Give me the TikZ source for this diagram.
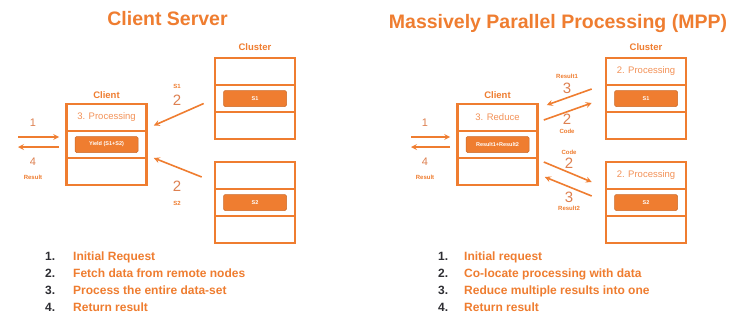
\documentclass[tikz,border=0pt]{standalone}
\usepackage{fontspec}
\setmainfont{Liberation Sans}
\usepackage{tikz}
\definecolor{mppor}{RGB}{239,125,48}
\definecolor{mpplt}{RGB}{243,146,88}
\definecolor{mppbr}{RGB}{222,128,80}
\definecolor{mppgr}{RGB}{45,45,50}
\tikzset{
  row/.style={draw=mppor, line width=2.6pt, minimum width=80pt, minimum height=27pt,
    inner sep=0pt, text=mpplt, font=\fontsize{9.5}{11}\selectfont},
  bar/.style={fill=mppor, draw=mppor!85!black, line width=0.5pt, rounded corners=1.5pt,
    minimum width=63pt, minimum height=16pt, inner sep=0pt, text=white,
    font=\bfseries\fontsize{5.5}{6}\selectfont},
  arr/.style={draw=mppor, line width=1.6pt, -stealth},
  title/.style={anchor=base, text=mppor, font=\bfseries\fontsize{19.5}{22}\selectfont},
  head/.style={text=mppor, font=\bfseries\fontsize{9.5}{11}\selectfont},
  num/.style={text=mppbr, font=\fontsize{15}{17}\selectfont, inner sep=0pt},
  small/.style={text=mppbr, font=\fontsize{11}{13}\selectfont, inner sep=0pt},
  tag/.style={text=mppor, font=\bfseries\fontsize{6}{7}\selectfont, inner sep=0pt},
  itemno/.style={anchor=base west, inner sep=0pt, text=mppgr, font=\bfseries\fontsize{12}{14}\selectfont},
  itemtx/.style={anchor=base west, inner sep=0pt, text=mppor, font=\bfseries\fontsize{12}{14}\selectfont}
}
\begin{document}
\begin{tikzpicture}[x=1pt,y=-1pt]
  \fill[white] (0,0) rectangle (742,322);
  \useasboundingbox (0,0) rectangle (742,322);

  % Titles
  \node[title] (ltitle) at (167.5,25) {Client Server};
  \node[title] (rtitle) at (558,28.5) {Massively Parallel Processing (MPP)};

  % ---------------- Client Server ----------------
  % Cluster, top node
  \node[head] (lclu) at (255,47) {Cluster};
  \node[row] (lta1) at (255,71.5) {};
  \node[row] (lta2) at (255,98.5) {};
  \node[row] (lta3) at (255,125.5) {};
  \node[bar] (lbar1) at (lta2) {S1};

  % Cluster, bottom node
  \node[row] (ltb1) at (255,175.5) {};
  \node[row] (ltb2) at (255,202.5) {};
  \node[row] (ltb3) at (255,229.5) {};
  \node[bar] (lbar2) at (ltb2) {S2};

  % Client
  \node[head] (lcli) at (106.5,95) {Client};
  \node[row] (lcl1) at (106.5,117.5) {3. Processing};
  \node[row] (lcl2) at (106.5,144.5) {};
  \node[row] (lcl3) at (106.5,171.5) {};
  \node[bar] (lbar3) at (lcl2) {Yield (S1+S2)};

  % Request and result
  \coordinate (lin) at (18,137);
  \coordinate (lout) at (18,147);
  \draw[arr] (lin) -- ([shift={(-6,-7.5)}]lcl2.west);
  \draw[arr] ([shift={(-6,2.5)}]lcl2.west) -- (lout);
  \node[small] (lone) at (33,123) {1};
  \node[small] (lfour) at (33,162) {4};
  \node[tag] (lres) at (33,177) {Result};

  % Fetch from the cluster
  \draw[arr] ([shift={(-10,5)}]lta2.west) -- ([shift={(6,8)}]lcl1.east);
  \draw[arr] ([shift={(-12,1.5)}]ltb1.west) -- ([shift={(6,13.5)}]lcl2.east);
  \node[tag] (ls1) at (177,86) {S1};
  \node[num] (ltwoa) at (177,100) {2};
  \node[num] (ltwob) at (177,186) {2};
  \node[tag] (ls2) at (177,203) {S2};

  % Steps
  \node[itemno] (ln1) at (45,260.5) {1.};
  \node[itemtx] (lt1) at (73,260.5) {Initial Request};
  \node[itemno] (ln2) at (45,277.5) {2.};
  \node[itemtx] (lt2) at (73,277.5) {Fetch data from remote nodes};
  \node[itemno] (ln3) at (45,294.5) {3.};
  \node[itemtx] (lt3) at (73,294.5) {Process the entire data-set};
  \node[itemno] (ln4) at (45,311.5) {4.};
  \node[itemtx] (lt4) at (73,311.5) {Return result};

  % ---------------- MPP ----------------
  % Cluster, top node
  \node[head] (rclu) at (646,47) {Cluster};
  \node[row] (rta1) at (646,71.5) {2. Processing};
  \node[row] (rta2) at (646,98.5) {};
  \node[row] (rta3) at (646,125.5) {};
  \node[bar] (rbar1) at (rta2) {S1};

  % Cluster, bottom node
  \node[row] (rtb1) at (646,175.5) {2. Processing};
  \node[row] (rtb2) at (646,202.5) {};
  \node[row] (rtb3) at (646,229.5) {};
  \node[bar] (rbar2) at (rtb2) {S2};

  % Client
  \node[head] (rcli) at (497.5,95) {Client};
  \node[row] (rcl1) at (497.5,117.5) {3. Reduce};
  \node[row] (rcl2) at (497.5,144.5) {};
  \node[row] (rcl3) at (497.5,171.5) {};
  \node[bar] (rbar3) at (rcl2) {Result1+Result2};

  % Request and result
  \coordinate (rin) at (411,137);
  \coordinate (rout) at (411,147);
  \draw[arr] (rin) -- ([shift={(-6,-7.5)}]rcl2.west);
  \draw[arr] ([shift={(-6,2.5)}]rcl2.west) -- (rout);
  \node[small] (rone) at (425,123) {1};
  \node[small] (rfour) at (425,162) {4};
  \node[tag] (rres) at (425,177) {Result};

  % Code out, results back
  \draw[arr] ([shift={(-13,-9.5)}]rta2.west) -- ([shift={(8,-12.5)}]rcl1.east);
  \draw[arr] ([shift={(5,2.5)}]rcl1.east) -- ([shift={(-13,4.5)}]rta2.west);
  \draw[arr] ([shift={(5,17.5)}]rcl2.east) -- ([shift={(-13,6.5)}]rtb1.west);
  \draw[arr] ([shift={(-13,-6.5)}]rtb2.west) -- ([shift={(6,5.5)}]rcl3.east);
  \node[tag] (rr1) at (567,76) {Result1};
  \node[num] (rthreea) at (567,88) {3};
  \node[num] (rtwoa) at (567,119) {2};
  \node[tag] (rcodea) at (567,131) {Code};
  \node[tag] (rcodeb) at (569,152) {Code};
  \node[num] (rtwob) at (569,163) {2};
  \node[num] (rthreeb) at (569,197) {3};
  \node[tag] (rr2) at (569,208) {Result2};

  % Steps
  \node[itemno] (rn1) at (438,260.5) {1.};
  \node[itemtx] (rt1) at (464,260.5) {Initial request};
  \node[itemno] (rn2) at (438,277.5) {2.};
  \node[itemtx] (rt2) at (464,277.5) {Co-locate processing with data};
  \node[itemno] (rn3) at (438,294.5) {3.};
  \node[itemtx] (rt3) at (464,294.5) {Reduce multiple results into one};
  \node[itemno] (rn4) at (438,311.5) {4.};
  \node[itemtx] (rt4) at (464,311.5) {Return result};
\end{tikzpicture}
\end{document}
